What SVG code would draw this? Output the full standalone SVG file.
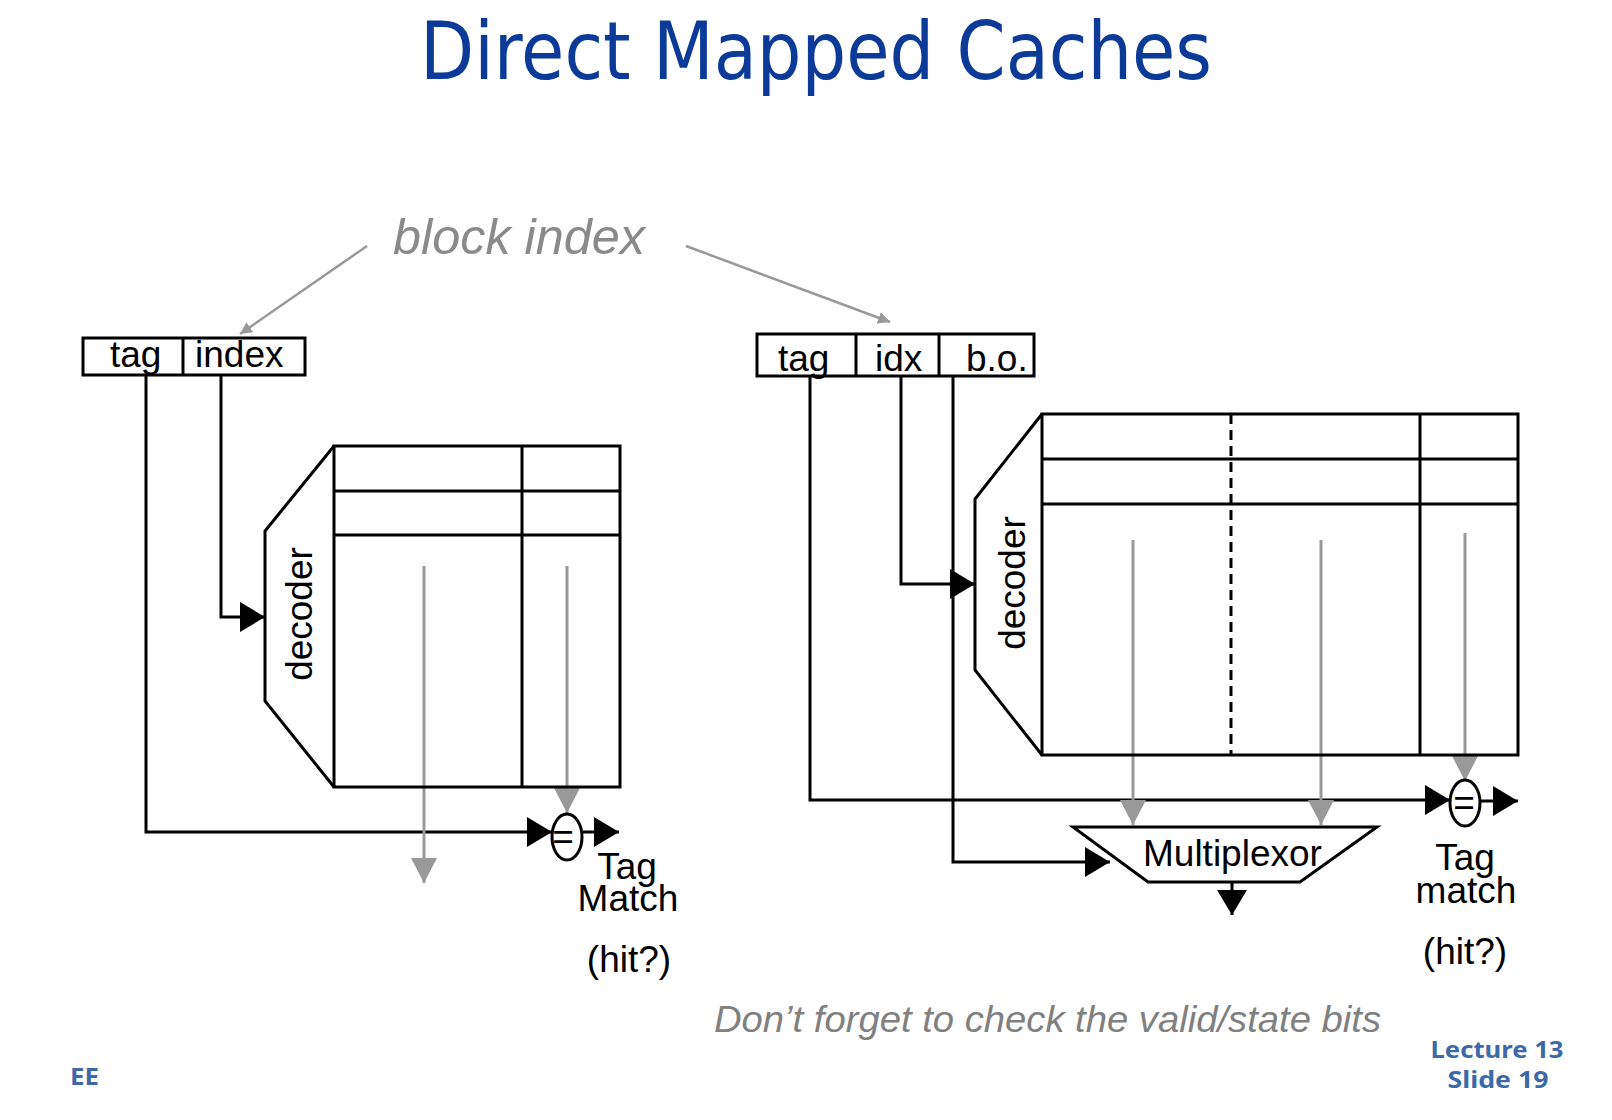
<svg xmlns="http://www.w3.org/2000/svg" width="1612" height="1120" viewBox="0 0 1612 1120">
<defs>
<style>
.ln{fill:none;stroke:#000;stroke-width:3}
.gr{fill:none;stroke:#999;stroke-width:3}
.gt{fill:none;stroke:#999;stroke-width:2.5}
.bx{fill:#fff;stroke:#000;stroke-width:3}
.t{font-family:"Liberation Sans",Arial,sans-serif;font-size:37px;fill:#000}
.tm{text-anchor:middle}
.blue{font-family:"Noto Sans","DejaVu Sans",sans-serif;font-weight:bold;fill:#3d6aa6}
</style>
<marker id="ab" markerUnits="userSpaceOnUse" markerWidth="26" markerHeight="30" refX="25" refY="15" orient="auto"><path d="M0,0 L25,15 L0,30 z" fill="#000"/></marker>
<marker id="ag" markerUnits="userSpaceOnUse" markerWidth="26" markerHeight="26" refX="25" refY="13" orient="auto"><path d="M0,0 L25,13 L0,26 z" fill="#999"/></marker>
<marker id="as" markerUnits="userSpaceOnUse" markerWidth="13" markerHeight="12" refX="12" refY="6" orient="auto"><path d="M0,0 L12,6 L0,12 z" fill="#999"/></marker>
</defs>
<rect width="1612" height="1120" fill="#fff"/>

<text x="420" y="79" font-family="'DejaVu Sans','Noto Sans',sans-serif" font-size="80" fill="#0b3a99" textLength="792" lengthAdjust="spacingAndGlyphs">Direct Mapped Caches</text>

<text x="393" y="254" font-family="'Liberation Sans',Arial,sans-serif" font-style="italic" font-size="50" fill="#8a8a8a" textLength="252" lengthAdjust="spacingAndGlyphs">block index</text>

<g id="connectors">
<path class="gt" d="M367,246 L240,334" marker-end="url(#as)"/>
<path class="gt" d="M686,246 L890,322" marker-end="url(#as)"/>
<path class="ln" d="M146,375 V832 H552" marker-end="url(#ab)"/>
<path class="ln" d="M221,375 V617 H265" marker-end="url(#ab)"/>
<path class="gr" d="M424,566 V883" marker-end="url(#ag)"/>
<path class="gr" d="M567,566 V813" marker-end="url(#ag)"/>
<path class="ln" d="M582,832 H619" marker-end="url(#ab)"/>
<path class="ln" d="M810,376 V800 H1450" marker-end="url(#ab)"/>
<path class="ln" d="M901,376 V584 H975" marker-end="url(#ab)"/>
<path class="ln" d="M953,376 V862 H1110" marker-end="url(#ab)"/>
<path class="gr" d="M1133,540 V825" marker-end="url(#ag)"/>
<path class="gr" d="M1321,540 V825" marker-end="url(#ag)"/>
<path class="gr" d="M1465,533 V781" marker-end="url(#ag)"/>
<path class="ln" d="M1480,801 H1518" marker-end="url(#ab)"/>
<path class="ln" d="M1232,882 V915" marker-end="url(#ab)"/>
</g>

<g id="addr-left">
<rect class="bx" x="83" y="338" width="222" height="37"/>
<line class="ln" x1="183" y1="338" x2="183" y2="375"/>
<text class="t" x="110" y="367">tag</text>
<text class="t" x="195" y="367">index</text>
</g>

<g id="addr-right">
<rect class="bx" x="757" y="334" width="277" height="42"/>
<line class="ln" x1="856" y1="334" x2="856" y2="376"/>
<line class="ln" x1="939" y1="334" x2="939" y2="376"/>
<text class="t" x="778" y="371">tag</text>
<text class="t" x="875" y="371">idx</text>
<text class="t" x="966" y="371">b.o.</text>
</g>

<g id="decoder-left">
<path class="ln" d="M334,446 L265,531 L265,701 L334,787"/>
<text class="t tm" transform="translate(312,614) rotate(-90)">decoder</text>
</g>

<g id="table-left">
<rect class="ln" x="334" y="446" width="286" height="341"/>
<line class="ln" x1="334" y1="491" x2="620" y2="491"/>
<line class="ln" x1="334" y1="535" x2="620" y2="535"/>
<line class="ln" x1="522" y1="446" x2="522" y2="787"/>
</g>

<g id="compare-left">
<ellipse class="ln" cx="567" cy="837" rx="15" ry="23"/>
<text class="t tm" x="563" y="849" font-size="30">=</text>
<text class="t tm" x="627" y="879">Tag</text>
<text class="t tm" x="628" y="911">Match</text>
<text class="t tm" x="629" y="972">(hit?)</text>
</g>

<g id="decoder-right">
<path class="ln" d="M1042,414 L975,499 L975,670 L1042,755"/>
<text class="t tm" transform="translate(1025,583) rotate(-90)">decoder</text>
</g>

<g id="table-right">
<rect class="ln" x="1042" y="414" width="476" height="341"/>
<line class="ln" x1="1042" y1="459" x2="1518" y2="459"/>
<line class="ln" x1="1042" y1="504" x2="1518" y2="504"/>
<line class="ln" x1="1420" y1="414" x2="1420" y2="755"/>
<line class="ln" x1="1231" y1="414" x2="1231" y2="755" stroke-dasharray="10 6"/>
</g>

<g id="mux">
<path class="ln" d="M1073,827 L1377,827 L1300,882 L1148,882 Z"/>
<text class="t" x="1143" y="866">Multiplexor</text>
</g>

<g id="compare-right">
<ellipse class="ln" cx="1465" cy="803" rx="15" ry="23"/>
<text class="t tm" x="1464" y="815" font-size="30">=</text>
<text class="t tm" x="1465" y="870">Tag</text>
<text class="t tm" x="1466" y="903">match</text>
<text class="t tm" x="1465" y="964">(hit?)</text>
</g>

<text x="714" y="1032" font-family="'Liberation Sans',Arial,sans-serif" font-style="italic" font-size="37" fill="#808080" textLength="667" lengthAdjust="spacingAndGlyphs">Don’t forget to check the valid/state bits</text>

<text class="blue" x="1497" y="1058" font-size="24" text-anchor="middle" textLength="133" lengthAdjust="spacingAndGlyphs">Lecture 13</text>
<text class="blue" x="1498" y="1088" font-size="24" text-anchor="middle" textLength="101" lengthAdjust="spacingAndGlyphs">Slide 19</text>
<text class="blue" x="70" y="1085" font-size="24" textLength="29" lengthAdjust="spacingAndGlyphs">EE</text>
</svg>
